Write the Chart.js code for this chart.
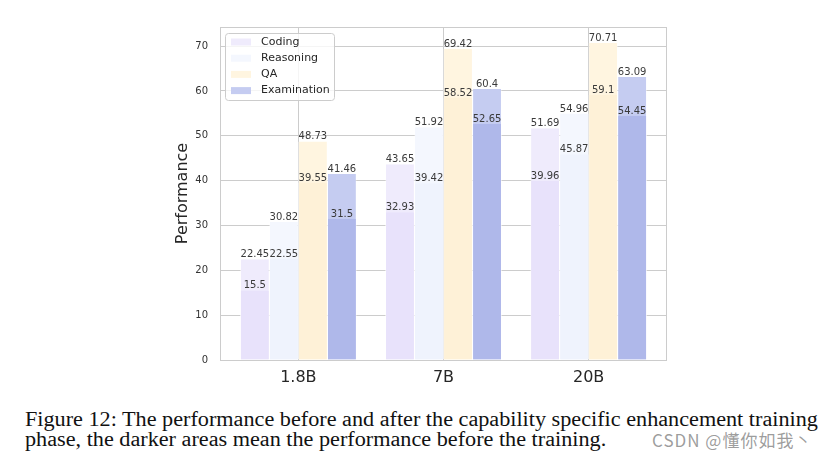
<!DOCTYPE html>
<html>
<head>
<meta charset="utf-8">
<script src="https://cdn.jsdelivr.net/npm/chart.js@4.4.1/dist/chart.umd.min.js"></script>
<style>
  body { margin: 0; background: #fff; }
  #wrap { position: relative; width: 829px; height: 460px; overflow: hidden; background: #fff; }
  #caption {
    position: absolute; left: 25px; top: 409px;
    font-family: "Liberation Serif", "DejaVu Serif", serif; font-size: 20px;
    line-height: 20px; color: #111; white-space: nowrap;
    transform: scaleX(1.11); transform-origin: left top;
  }
  #mark {
    position: absolute; left: 652px; top: 427px;
    font-family: "Noto Sans CJK SC", "Noto Sans", sans-serif; font-size: 17px;
    letter-spacing: 1px;
    color: rgba(140, 140, 140, 0.85); white-space: nowrap;
  }
</style>
</head>
<body>
<div id="wrap">
  <canvas id="perf" width="829" height="400"></canvas>
  <div id="caption">Figure 12: The performance before and after the capability specific enhancement training<br>phase, the darker areas mean the performance before the training.</div>
  <div id="mark">CSDN @懂你如我丶</div>
</div>
<script>
// values
const categories = ['1.8B', '7B', '20B'];
const codingBefore = [15.5, 32.93, 39.96];
const codingAfter = [22.45, 43.65, 51.69];
const reasoningBefore = [22.55, 39.42, 45.87];
const reasoningAfter = [30.82, 51.92, 54.96];
const qaBefore = [39.55, 58.52, 59.1];
const qaAfter = [48.73, 69.42, 70.71];
const examBefore = [31.5, 52.65, 54.45];
const examAfter = [41.46, 60.4, 63.09];

const font = '"DejaVu Sans", Verdana, sans-serif';

function bars(label, data, color, stack, order) {
  return {
    label: label,
    data: data,
    stack: stack,
    order: order,
    backgroundColor: color,
    borderColor: '#ffffff',
    borderWidth: {left: 0.6, right: 0.6, top: 0, bottom: 0},
    borderSkipped: false,
    categoryPercentage: 0.8,
    barPercentage: 1.0
  };
}

// darker "before" bars go on top of the lighter "after" bars
const datasets = [
  bars('Coding', codingAfter, '#efebfc', 'coding', 2),
  bars('Reasoning', reasoningAfter, '#f4f7fe', 'reasoning', 2),
  bars('QA', qaAfter, '#fff5e0', 'qa', 2),
  bars('Examination', examAfter, '#c5ccf1', 'exam', 2),
  bars('Coding before', codingBefore, '#e8e2fb', 'coding', 1),
  bars('Reasoning before', reasoningBefore, '#eff3fd', 'reasoning', 1),
  bars('QA before', qaBefore, '#fef1d7', 'qa', 1),
  bars('Examination before', examBefore, '#afb8ea', 'exam', 1)
];

const framePlugin = {
  id: 'frame',
  afterDraw(chart) {
    const a = chart.chartArea;
    const c = chart.ctx;
    c.save();
    c.strokeStyle = '#cccccc';
    c.lineWidth = 1;
    c.strokeRect(a.left + 0.5, a.top + 0.5, a.right - a.left - 1, a.bottom - a.top);
    c.restore();
  }
};

const valueLabels = {
  id: 'valueLabels',
  afterDatasetsDraw(chart) {
    const c = chart.ctx;
    c.save();
    c.font = '10px ' + font;
    c.fillStyle = '#3a3a3a';
    c.textAlign = 'center';
    c.textBaseline = 'alphabetic';
    chart.data.datasets.forEach((ds, i) => {
      const meta = chart.getDatasetMeta(i);
      meta.data.forEach((el, j) => {
        c.fillText(String(ds.data[j]), el.x, el.y - 2);
      });
    });
    c.restore();
  }
};

const boxLegend = {
  id: 'boxLegend',
  afterDraw(chart) {
    const a = chart.chartArea;
    const c = chart.ctx;
    const items = chart.data.datasets.slice(0, 4);
    const x = a.left + 5, y = a.top + 6, w = 109, h = 67;
    c.save();
    c.beginPath();
    c.roundRect(x + 0.5, y + 0.5, w, h, 3);
    c.fillStyle = 'rgba(255,255,255,0.8)';
    c.fill();
    c.strokeStyle = '#cccccc';
    c.lineWidth = 1;
    c.stroke();
    c.font = '11px ' + font;
    c.textBaseline = 'middle';
    items.forEach((ds, k) => {
      const cy = y + 9 + k * 16.2;
      c.fillStyle = ds.backgroundColor;
      c.fillRect(x + 6, cy - 3.5, 20, 7);
      c.fillStyle = '#262626';
      c.fillText(ds.label, x + 36, cy);
    });
    c.restore();
  }
};

new Chart(document.getElementById('perf'), {
  type: 'bar',
  data: {labels: categories.map((_, i) => i), datasets: datasets},
  plugins: [framePlugin, valueLabels, boxLegend],
  options: {
    responsive: false,
    animation: false,
    layout: {padding: {left: 169, right: 162, top: 27, bottom: 0}},
    plugins: {
      legend: {display: false},
      tooltip: {enabled: false}
    },
    scales: {
      x: {
        type: 'linear',
        min: -0.54,
        max: 2.54,
        offset: false,
        afterFit(scale) { scale.height = 40; },
        grid: {color: '#cccccc', offset: false, drawTicks: false},
        border: {display: false},
        ticks: {
          stepSize: 1,
          includeBounds: false,
          callback: (v) => categories[v],
          color: '#262626', font: {family: font, size: 16}, padding: 8
        }
      },
      y: {
        stacked: false,
        min: 0,
        max: 74.25,
        afterFit(scale) { scale.width = 51; },
        grid: {color: '#cccccc', drawTicks: false},
        border: {display: false},
        ticks: {stepSize: 10, includeBounds: false, color: '#333333', font: {family: font, size: 10}, padding: 12},
        title: {display: true, text: 'Performance', color: '#262626', font: {family: font, size: 16}}
      }
    }
  }
});
</script>
</body>
</html>
